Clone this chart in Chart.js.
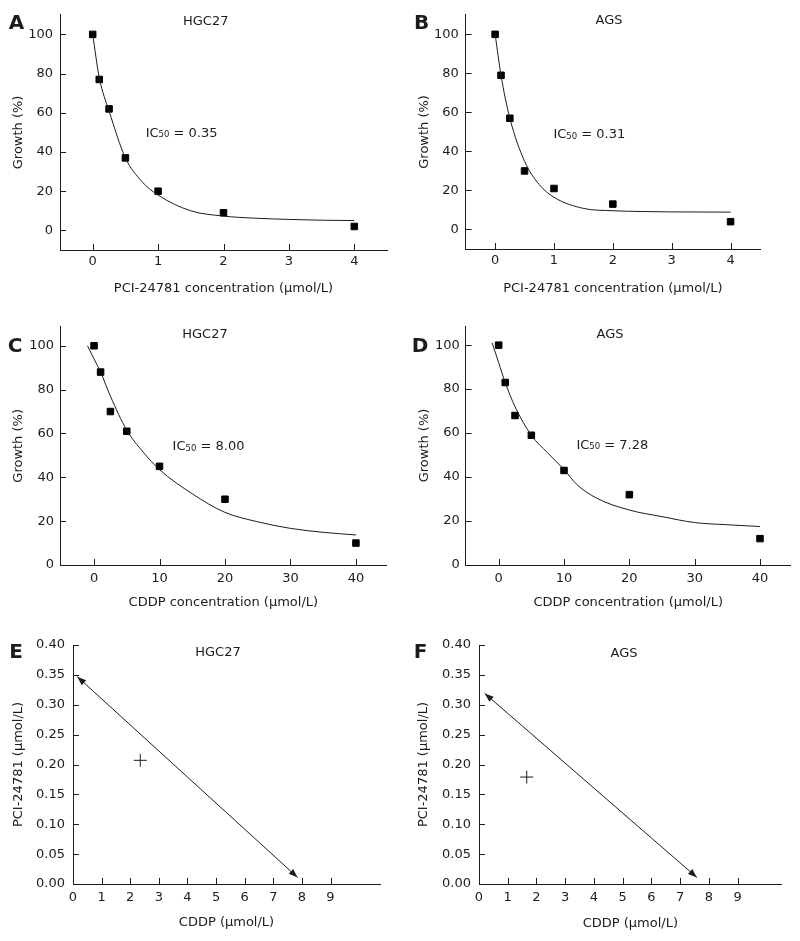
<!DOCTYPE html>
<html><head><meta charset="utf-8">
<script src="https://cdn.jsdelivr.net/npm/chart.js@4.4.1/dist/chart.umd.min.js"></script>
<style>
html,body{margin:0;padding:0;background:#fff;width:800px;height:941px;overflow:hidden;position:relative}
canvas{position:absolute}
</style></head><body>
<script>
// ---- data ----
const pciConc = [0, 0.1, 0.25, 0.5, 1, 2, 4];
const hgcPciGrowth = [100, 77, 62, 37, 20, 9, 2];
const agsPciGrowth = [100, 79, 57, 30, 21, 13, 4];
const hgcPciFitX = [0, 0.1, 0.25, 0.5, 0.75, 1, 1.5, 2, 2.5, 3, 3.5, 4];
const hgcPciFitY = [100, 78, 61, 37, 25, 18, 10, 7.3, 6.2, 5.6, 5.2, 5.0];
const agsPciFitX = [0, 0.1, 0.25, 0.5, 0.75, 1, 1.5, 2, 2.5, 3, 4];
const agsPciFitY = [100, 79, 57, 35, 23, 16.5, 10.8, 9.6, 9.2, 9, 8.9];

const cddpConc = [0, 1, 2.5, 5, 10, 20, 40];
const hgcCddpGrowth = [100, 88, 70, 61, 45, 30, 10];
const agsCddpGrowth = [100, 83, 68, 59, 43, 32, 12];
const hgcCddpFitX = [-1, 0, 1, 2.5, 5, 7.5, 10, 15, 20, 25, 30, 35, 40];
const hgcCddpFitY = [100, 94, 88, 77, 61.5, 51.5, 43.5, 32.5, 24, 19.7, 16.7, 14.9, 13.7];
const agsCddpFitX = [-1, 0, 1, 2.5, 5, 7.5, 10, 12, 15, 20, 25, 30, 35, 40];
const agsCddpFitY = [101, 92, 83, 72, 59, 51, 43.4, 36.5, 30.4, 25, 22, 19.3, 18.3, 17.5];

const hgcIsoX = [0.15, 7.85], hgcIsoY = [0.347, 0.011];
const hgcComboX = [2.35], hgcComboY = [0.207];
const agsIsoX = [0.2, 7.58], agsIsoY = [0.319, 0.011];
const agsComboX = [1.66], agsComboY = [0.179];

const icValues = ['0.35', '0.31', '8.00', '7.28'];
const panelLetters = ['A', 'B', 'C', 'D', 'E', 'F'];
const cellLines = ['HGC27', 'AGS', 'HGC27', 'AGS', 'HGC27', 'AGS'];

const pciTicks = [0, 1, 2, 3, 4];
const pciTickLabels = ['0', '1', '2', '3', '4'];
const cddpTicks = [0, 10, 20, 30, 40];
const cddpTickLabels = ['0', '10', '20', '30', '40'];
const growthTicks = [0, 20, 40, 60, 80, 100];
const growthTickLabels = ['0', '20', '40', '60', '80', '100'];
const isoXTicks = [0, 1, 2, 3, 4, 5, 6, 7, 8, 9];
const isoXTickLabels = ['0', '1', '2', '3', '4', '5', '6', '7', '8', '9'];
const isoYTicks = [0, 0.05, 0.10, 0.15, 0.20, 0.25, 0.30, 0.35, 0.40];
const isoYTickLabels = ['0.00', '0.05', '0.10', '0.15', '0.20', '0.25', '0.30', '0.35', '0.40'];

// ---- styling ----
const FONT = "'DejaVu Sans', Verdana, sans-serif";
const FS = 13;
const INK = '#1c1c1c';
Chart.defaults.font.family = FONT;
Chart.defaults.font.size = FS;
Chart.defaults.color = INK;

const zip = (xs, ys) => xs.map((x, i) => ({ x, y: ys[i] }));

const decor = {
  id: 'decor',
  afterDraw(chart, args, o) {
    const ctx = chart.ctx;
    const xs = chart.scales.x, ys = chart.scales.y, ca = chart.chartArea;
    ctx.save();
    // inward tick marks
    ctx.strokeStyle = INK; ctx.lineWidth = 1;
    ctx.beginPath();
    xs.ticks.forEach(t => {
      const px = Math.round(xs.getPixelForValue(t.value)) + 0.5;
      ctx.moveTo(px, ca.bottom); ctx.lineTo(px, ca.bottom - 6);
    });
    ys.ticks.forEach(t => {
      const py = Math.round(ys.getPixelForValue(t.value)) + 0.5;
      ctx.moveTo(ca.left, py); ctx.lineTo(ca.left + 6, py);
    });
    ctx.stroke();

    ctx.fillStyle = INK;
    ctx.textBaseline = 'middle';
    ctx.textAlign = 'center';
    ctx.font = `bold 20px ${FONT}`;
    ctx.fillText(o.letter, o.letterX, o.letterY);
    ctx.font = `${FS}px ${FONT}`;
    ctx.fillText(o.title, o.titleX, o.titleY);
    if (o.ic) {
      let x = xs.getPixelForValue(o.ic.x);
      const y = ys.getPixelForValue(o.ic.y);
      ctx.textAlign = 'left';
      ctx.fillText('IC', x, y);
      x += ctx.measureText('IC').width;
      ctx.font = `8.5px ${FONT}`;
      ctx.fillText('50', x, y + 1.5);
      x += ctx.measureText('50').width;
      ctx.font = `${FS}px ${FONT}`;
      ctx.fillText(' = ' + o.ic.value, x, y);
    }
    if (o.arrowDataset != null) {
      const pts = chart.getDatasetMeta(o.arrowDataset).data;
      const head = (tip, from) => {
        const a = Math.atan2(tip.y - from.y, tip.x - from.x);
        const L = 9, W = 3.3;
        ctx.beginPath();
        ctx.moveTo(tip.x, tip.y);
        ctx.lineTo(tip.x - L * Math.cos(a) + W * Math.sin(a), tip.y - L * Math.sin(a) - W * Math.cos(a));
        ctx.lineTo(tip.x - L * Math.cos(a) - W * Math.sin(a), tip.y - L * Math.sin(a) + W * Math.cos(a));
        ctx.closePath();
        ctx.fill();
      };
      head(pts[0], pts[pts.length - 1]);
      head(pts[pts.length - 1], pts[0]);
    }
    ctx.restore();
  }
};

function panel(p) {
  const lh2 = FS * 1.2 / 2;
  const c = document.createElement('canvas');
  const h = Math.round(p.xTitleY + 4 + lh2 - p.box.y);
  c.width = p.box.w; c.height = h;
  c.style.left = p.box.x + 'px'; c.style.top = p.box.y + 'px';
  document.body.appendChild(c);
  const padL = p.yTitleX - 4 - lh2 - p.box.x;
  const yW = p.area.l - p.box.x - padL;
  const xH = p.box.y + h - p.area.b;
  const d = Object.assign({}, p.decor, {
    letterX: p.decor.letterX - p.box.x, letterY: p.decor.letterY - p.box.y,
    titleX: p.decor.titleX - p.box.x, titleY: p.decor.titleY - p.box.y
  });
  const axisCommon = {
    grid: { display: false, drawTicks: false, tickLength: 0 },
    border: { display: true, color: INK, width: 1 }
  };
  new Chart(c, {
    type: 'scatter',
    data: { datasets: p.datasets },
    options: {
      responsive: false, animation: false, devicePixelRatio: 1,
      events: [],
      layout: { padding: { left: padL, top: p.area.t - p.box.y, right: p.box.x + p.box.w - p.area.r, bottom: 0 } },
      plugins: { legend: { display: false }, tooltip: { enabled: false }, decor: d },
      scales: {
        x: Object.assign({
          type: 'linear', min: p.x.min, max: p.x.max,
          afterFit: s => { s.height = xH; },
          afterBuildTicks: s => { s.ticks = p.x.ticks.map(v => ({ value: v })); },
          ticks: { callback: (v, i) => p.x.labels[i], padding: p.x.pad, maxRotation: 0, autoSkip: false, color: INK },
          title: { display: true, text: p.x.title, padding: { top: 4, bottom: 4 }, color: INK }
        }, axisCommon),
        y: Object.assign({
          type: 'linear', min: p.y.min, max: p.y.max,
          afterFit: s => { s.width = yW; },
          afterBuildTicks: s => { s.ticks = p.y.ticks.map(v => ({ value: v })); },
          ticks: { callback: (v, i) => p.y.labels[i], padding: p.y.pad, autoSkip: false, color: INK },
          title: { display: true, text: p.y.title, padding: { top: 4, bottom: 4 }, color: INK }
        }, axisCommon)
      }
    },
    plugins: [decor]
  });
}

const fitStyle = { showLine: true, borderColor: INK, borderWidth: 1, pointRadius: 0, cubicInterpolationMode: 'monotone', fill: false };
const dotStyle = { showLine: false, pointStyle: 'rect', pointRadius: 4.6, backgroundColor: '#000', borderColor: '#000', borderWidth: 1 };
const crossStyle = { showLine: false, pointStyle: 'cross', pointRadius: 6.5, borderColor: INK, borderWidth: 1 };
const isoStyle = { showLine: true, borderColor: INK, borderWidth: 1, pointRadius: 0, fill: false };

const pciX = { min: -0.5, max: 4.5, ticks: pciTicks, labels: pciTickLabels, pad: 4, title: 'PCI-24781 concentration (μmol/L)' };
const growthYtop = { min: -10, max: 110, ticks: growthTicks, labels: growthTickLabels, pad: 7, title: 'Growth (%)' };
const growthYmid = { min: 0, max: 108.7, ticks: growthTicks, labels: growthTickLabels, pad: 6, title: 'Growth (%)' };
const isoY = { min: 0, max: 0.40, ticks: isoYTicks, labels: isoYTickLabels, pad: 8, title: 'PCI-24781 (μmol/L)' };

// A
panel({
  box: { x: 0, y: 0, w: 400 }, area: { l: 60, t: 13, r: 387, b: 250 }, yTitleX: 18.3, xTitleY: 288,
  x: pciX, y: growthYtop,
  datasets: [Object.assign({ data: zip(hgcPciFitX, hgcPciFitY) }, fitStyle), Object.assign({ data: zip(pciConc, hgcPciGrowth) }, dotStyle)],
  decor: { letter: panelLetters[0], letterX: 16.5, letterY: 23.5, title: cellLines[0], titleX: 205.7, titleY: 21.7, ic: { x: 0.81, y: 49.3, value: icValues[0] } }
});
// B
panel({
  box: { x: 400, y: 0, w: 400 }, area: { l: 465.7, t: 13, r: 760, b: 249 }, yTitleX: 425, xTitleY: 288.3,
  x: pciX, y: growthYtop,
  datasets: [Object.assign({ data: zip(agsPciFitX, agsPciFitY) }, fitStyle), Object.assign({ data: zip(pciConc, agsPciGrowth) }, dotStyle)],
  decor: { letter: panelLetters[1], letterX: 421.5, letterY: 23.5, title: cellLines[1], titleX: 609, titleY: 20.7, ic: { x: 0.99, y: 48.5, value: icValues[1] } }
});
// C
panel({
  box: { x: 0, y: 300, w: 400 }, area: { l: 60, t: 326.7, r: 386.7, b: 565 }, yTitleX: 18.3, xTitleY: 601.7,
  x: { min: -5.2, max: 44.7, ticks: cddpTicks, labels: cddpTickLabels, pad: 5.5, title: 'CDDP concentration (μmol/L)' }, y: growthYmid,
  datasets: [Object.assign({ data: zip(hgcCddpFitX, hgcCddpFitY) }, fitStyle), Object.assign({ data: zip(cddpConc, hgcCddpGrowth) }, dotStyle)],
  decor: { letter: panelLetters[2], letterX: 15, letterY: 346.5, title: cellLines[2], titleX: 205, titleY: 335, ic: { x: 12.0, y: 53.9, value: icValues[2] } }
});
// D
panel({
  box: { x: 400, y: 300, w: 400 }, area: { l: 465.7, t: 326, r: 790.7, b: 565 }, yTitleX: 425, xTitleY: 601.7,
  x: { min: -5.05, max: 44.7, ticks: cddpTicks, labels: cddpTickLabels, pad: 5.5, title: 'CDDP concentration (μmol/L)' }, y: growthYmid,
  datasets: [Object.assign({ data: zip(agsCddpFitX, agsCddpFitY) }, fitStyle), Object.assign({ data: zip(cddpConc, agsCddpGrowth) }, dotStyle)],
  decor: { letter: panelLetters[3], letterX: 420, letterY: 346.5, title: cellLines[3], titleX: 610, titleY: 335, ic: { x: 11.9, y: 54.3, value: icValues[3] } }
});
// E
panel({
  box: { x: 0, y: 612, w: 400 }, area: { l: 73, t: 645, r: 380, b: 884 }, yTitleX: 18.3, xTitleY: 921.7,
  x: { min: 0, max: 10.73, ticks: isoXTicks, labels: isoXTickLabels, pad: 6.2, title: 'CDDP (μmol/L)' }, y: isoY,
  datasets: [Object.assign({ data: zip(hgcIsoX, hgcIsoY) }, isoStyle), Object.assign({ data: zip(hgcComboX, hgcComboY) }, crossStyle)],
  decor: { letter: panelLetters[4], letterX: 16, letterY: 653, title: cellLines[4], titleX: 218, titleY: 653, arrowDataset: 0 }
});
// F
panel({
  box: { x: 400, y: 612, w: 400 }, area: { l: 479, t: 645, r: 781.7, b: 884 }, yTitleX: 423.3, xTitleY: 923,
  x: { min: 0, max: 10.53, ticks: isoXTicks, labels: isoXTickLabels, pad: 6.2, title: 'CDDP (μmol/L)' }, y: isoY,
  datasets: [Object.assign({ data: zip(agsIsoX, agsIsoY) }, isoStyle), Object.assign({ data: zip(agsComboX, agsComboY) }, crossStyle)],
  decor: { letter: panelLetters[5], letterX: 420.7, letterY: 653, title: cellLines[5], titleX: 624, titleY: 654, arrowDataset: 0 }
});
</script>
</body></html>
